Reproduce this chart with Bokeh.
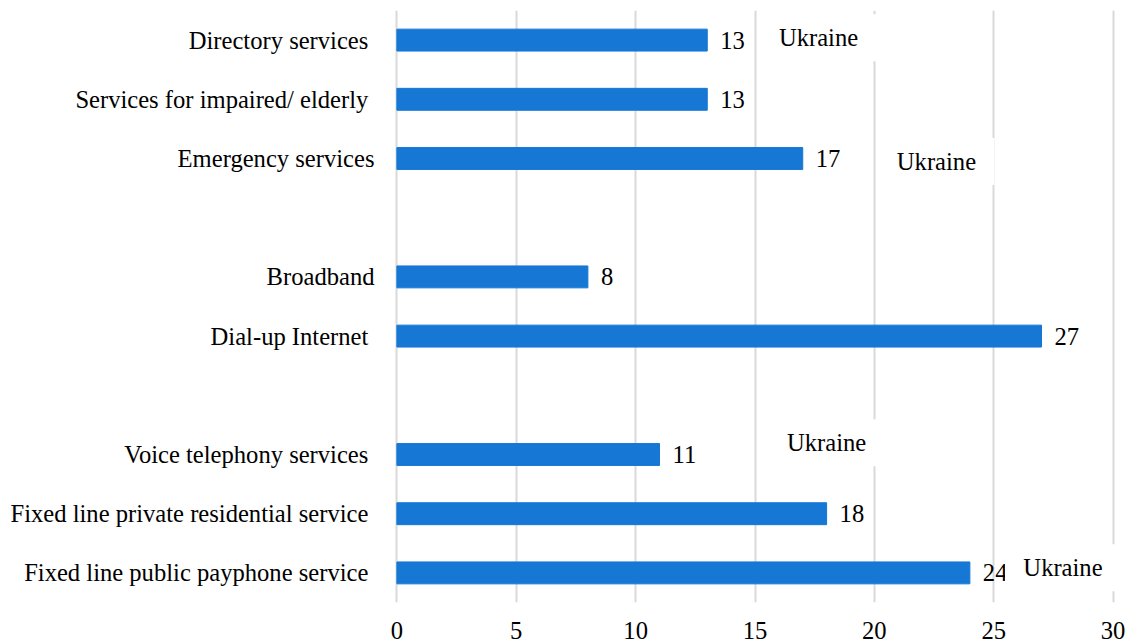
from bokeh.plotting import figure
from bokeh.models import Range1d, FixedTicker, ColumnDataSource
from bokeh.core.properties import value
from bokeh.embed import file_html
from bokeh.resources import INLINE

# ---- data (top to bottom, in groups) ----
group1_names = ["Directory services ", "Services for impaired/ elderly ", "Emergency services"]
group1_values = [13, 13, 17]
group2_names = ["Broadband", "Dial-up Internet "]
group2_values = [8, 27]
group3_names = ["Voice telephony services ", "Fixed line private residential service ", "Fixed line public payphone service "]
group3_values = [11, 18, 24]
x_ticks = [0, 5, 10, 15, 20, 25, 30]
annotation_text = "Ukraine"

# annotation anchor points (data coords: value axis, slot axis)
ukraine_x = [17.66, 22.6, 18.0, 27.9]
ukraine_y = [9.04, 6.95, 2.2, 0.085]

FONT = "Liberation Serif"
FS = "24.6px"
BAR = "#1677d5"

groups = [(group1_names, group1_values), (group2_names, group2_values), (group3_names, group3_values)]
n_slots = sum(len(g[0]) for g in groups) + len(groups) - 1
names, vals, slots = [], [], []
s = n_slots - 1
for gi, (gn, gv) in enumerate(groups):
    for n, v in zip(gn, gv):
        names.append(n)
        vals.append(v)
        slots.append(s)
        s -= 1
    s -= 1  # gap slot

src = ColumnDataSource(dict(name=names, val=vals, y=slots, lab=[str(v) for v in vals]))

p = figure(width=1132, height=643, output_backend="svg", toolbar_location=None,
           x_range=Range1d(-0.1, 30.1), y_range=Range1d(-0.5, n_slots - 0.5),
           min_border_left=394, min_border_right=17, min_border_top=10, min_border_bottom=41)
p.outline_line_color = None
p.background_fill_color = "white"

p.hbar(y="y", right="val", left=0, height=0.37, source=src, fill_color=BAR, line_color=BAR)
p.text(x="val", y="y", text="lab", source=src, x_offset=13, text_align="left",
       text_baseline="middle", text_font=value(FONT), text_font_size=FS, text_color="black")

usrc = ColumnDataSource(dict(x=ukraine_x, y=ukraine_y, t=[annotation_text] * len(ukraine_x)))
p.rect(x="x", y="y", width=116, height=47, width_units="screen", height_units="screen",
       source=usrc, fill_color="white", line_color=None)
p.text(x="x", y="y", text="t", source=usrc, text_align="center", text_baseline="middle",
       text_font=value(FONT), text_font_size=FS, text_color="black")

# x axis
p.xaxis.ticker = FixedTicker(ticks=x_ticks)
p.xaxis.axis_line_color = None
p.xaxis.major_tick_line_color = None
p.xaxis.minor_tick_line_color = None
p.xaxis.major_label_text_font = FONT
p.xaxis.major_label_text_font_size = FS
p.xaxis.major_label_text_color = "black"
p.xaxis.major_label_standoff = 13

# y axis
p.yaxis.ticker = FixedTicker(ticks=slots)
p.yaxis.major_label_overrides = {sl: n for sl, n in zip(slots, names)}
p.yaxis.axis_line_color = None
p.yaxis.major_tick_line_color = None
p.yaxis.minor_tick_line_color = None
p.yaxis.major_label_text_font = FONT
p.yaxis.major_label_text_font_size = FS
p.yaxis.major_label_text_color = "black"
p.yaxis.major_label_standoff = 14

p.xgrid.ticker = FixedTicker(ticks=x_ticks)
p.xgrid.grid_line_color = "#d9d9d9"
p.xgrid.grid_line_width = 2
p.ygrid.grid_line_color = None

open("out.html", "w").write(file_html(p, INLINE))
